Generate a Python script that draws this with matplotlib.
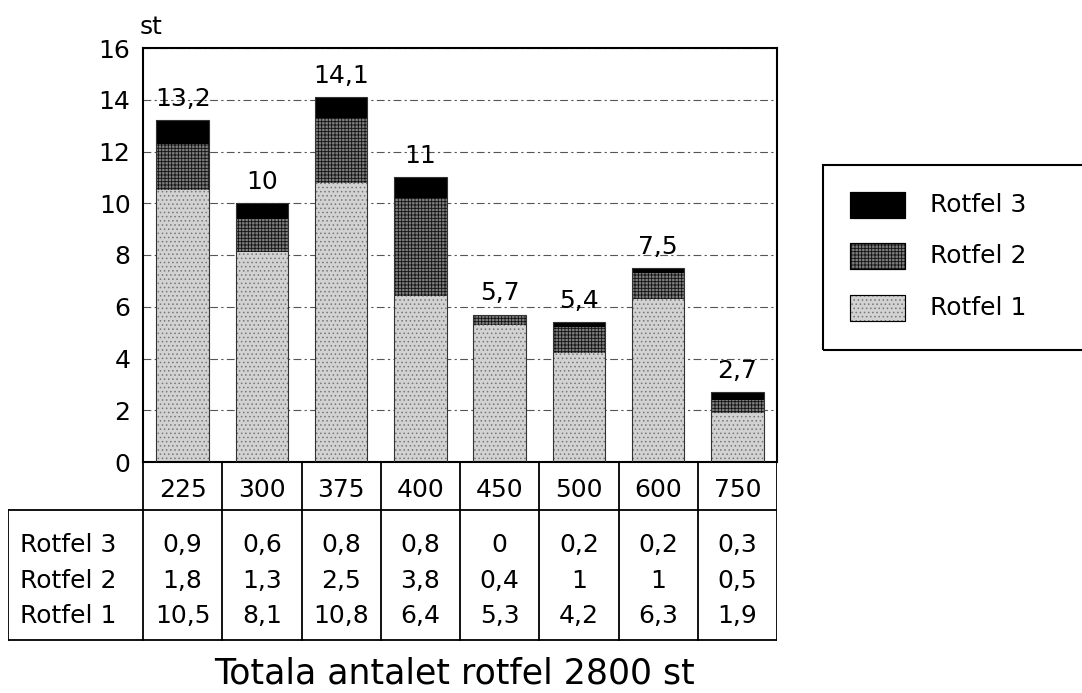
import matplotlib
matplotlib.use("Agg")
import matplotlib.pyplot as plt
from matplotlib.patches import Rectangle

categories = ["225", "300", "375", "400", "450", "500", "600", "750"]
rotfel1 = [10.5, 8.1, 10.8, 6.4, 5.3, 4.2, 6.3, 1.9]
rotfel2 = [1.8, 1.3, 2.5, 3.8, 0.4, 1, 1, 0.5]
rotfel3 = [0.9, 0.6, 0.8, 0.8, 0, 0.2, 0.2, 0.3]
series_names = ["Rotfel 3", "Rotfel 2", "Rotfel 1"]
footer = "Totala antalet rotfel 2800 st"


def fmt(v):
    return ("%g" % round(v, 1)).replace(".", ",")


plt.rcParams["font.family"] = "DejaVu Sans"
plt.rcParams["hatch.linewidth"] = 0.6
W, H = 1082, 693
fs = 18
fig = plt.figure(figsize=(W / 100, H / 100), dpi=100)

# styles: face, hatch colour, hatch
sty1 = dict(color="#d2d2d2", edgecolor="#777777", hatch="....")
sty2 = dict(color="#7c7c7c", edgecolor="#111111", hatch="+++++")
sty3 = dict(color="black", edgecolor="black", hatch=None)

ax = fig.add_axes([143 / W, 1 - 462 / H, 634 / W, 414 / H])
x = list(range(len(categories)))
bw = 0.66
base2 = [a for a in rotfel1]
base3 = [a + b for a, b in zip(rotfel1, rotfel2)]
totals = [a + b + c for a, b, c in zip(rotfel1, rotfel2, rotfel3)]

ax.bar(x, rotfel1, bw, facecolor=sty1["color"], edgecolor=sty1["edgecolor"], hatch=sty1["hatch"], lw=0, zorder=2)
ax.bar(x, rotfel2, bw, bottom=base2, facecolor=sty2["color"], edgecolor=sty2["edgecolor"], hatch=sty2["hatch"], lw=0, zorder=2)
ax.bar(x, rotfel3, bw, bottom=base3, facecolor="black", edgecolor="black", lw=0, zorder=2)
ax.bar(x, totals, bw, fill=False, edgecolor="#333333", lw=0.8, zorder=3)
for i, t in enumerate(totals):
    ax.text(i, t + 0.35, fmt(t), ha="center", va="bottom", fontsize=fs, zorder=4)

ax.set_xlim(-0.5, 7.5)
ax.set_ylim(0, 16)
ax.set_yticks(range(0, 17, 2))
ax.set_xticks([])
ax.tick_params(axis="y", length=0, pad=9, labelsize=fs)
ax.grid(axis="y", color="#555555", lw=0.8, ls=(0, (7, 3, 2, 3)), zorder=0)
for s in ax.spines.values():
    s.set_linewidth(1.5)
fig.text(140 / W, 1 - 27 / H, "st", ha="left", va="center", fontsize=fs)

# table below the bars
tab = fig.add_axes([8 / W, 1 - 641 / H, 769 / W, 179 / H])
x0 = -0.5 - 135 / 79.25
tab.set_xlim(x0, 7.5)
tab.set_ylim(641, 462)
tab.axis("off")
lw = 1.3
tab.plot([x0, 7.5], [510, 510], color="black", lw=lw)
tab.plot([x0, 7.5], [640, 640], color="black", lw=lw)
tab.plot([x0, x0], [510, 640], color="black", lw=lw)
for xv in [i - 0.5 for i in range(len(categories) + 1)]:
    tab.plot([xv, xv], [462, 640], color="black", lw=lw)
for i, c in enumerate(categories):
    tab.text(i, 490, c, ha="center", va="center", fontsize=fs)
rows = [rotfel3, rotfel2, rotfel1]
row_y = [545, 581, 616]
for name, vals, yy in zip(series_names, rows, row_y):
    tab.text(x0 + 12 / 79.25, yy, name, ha="left", va="center", fontsize=fs)
    for i, v in enumerate(vals):
        tab.text(i, yy, fmt(v), ha="center", va="center", fontsize=fs)

fig.text(455 / W, 1 - 684 / H, footer, ha="center", va="baseline", fontsize=25)

# legend box
fig.add_artist(Rectangle((823 / W, 1 - 350 / H), 270 / W, 185 / H, transform=fig.transFigure,
                         fill=False, edgecolor="black", lw=1.5, clip_on=False))
leg_styles = [sty3, sty2, sty1]
leg_y = [205, 256, 308]
for name, st, yy in zip(series_names, leg_styles, leg_y):
    fig.add_artist(Rectangle((850 / W, 1 - (yy + 13) / H), 55 / W, 26 / H, transform=fig.transFigure,
                             facecolor=st["color"], edgecolor=st["edgecolor"], hatch=st["hatch"], lw=0.8))
    fig.add_artist(Rectangle((850 / W, 1 - (yy + 13) / H), 55 / W, 26 / H, transform=fig.transFigure,
                             fill=False, edgecolor="black", lw=0.8))
    fig.text(930 / W, 1 - yy / H, name, ha="left", va="center", fontsize=fs)

fig.savefig("out.png", dpi=100)
